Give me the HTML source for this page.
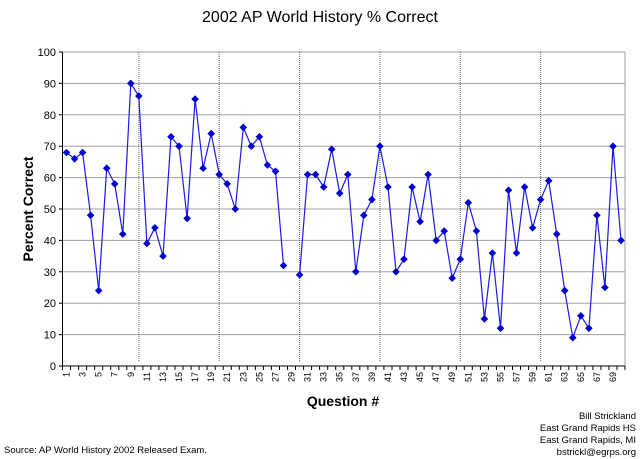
<!DOCTYPE html>
<html><head><meta charset="utf-8"><style>body{margin:0;background:#fff}svg{display:block}text{font-family:"Liberation Sans",sans-serif;fill:#000}</style></head><body>
<svg width="640" height="459" viewBox="0 0 640 459" xmlns="http://www.w3.org/2000/svg">
<defs><path id="d" d="M0,-3.8L3.8,0L0,3.8L-3.8,0Z" fill="#0000cc"/></defs>
<text x="320" y="22" text-anchor="middle" font-size="16">2002 AP World History % Correct</text>
<g stroke="#a0a0a0" stroke-width="1">
<line x1="62.5" y1="52" x2="625" y2="52"/><line x1="62.5" y1="83.4" x2="625" y2="83.4"/><line x1="62.5" y1="114.8" x2="625" y2="114.8"/><line x1="62.5" y1="146.2" x2="625" y2="146.2"/><line x1="62.5" y1="177.6" x2="625" y2="177.6"/><line x1="62.5" y1="209" x2="625" y2="209"/><line x1="62.5" y1="240.4" x2="625" y2="240.4"/><line x1="62.5" y1="271.8" x2="625" y2="271.8"/><line x1="62.5" y1="303.2" x2="625" y2="303.2"/><line x1="62.5" y1="334.6" x2="625" y2="334.6"/>
<line x1="625" y1="52" x2="625" y2="366"/>
</g>
<g stroke="#666" stroke-width="1" stroke-dasharray="1,1">
<line x1="138.8" y1="52" x2="138.8" y2="362"/><line x1="219.2" y1="52" x2="219.2" y2="362"/><line x1="299.6" y1="52" x2="299.6" y2="362"/><line x1="379.9" y1="52" x2="379.9" y2="362"/><line x1="460.3" y1="52" x2="460.3" y2="362"/><line x1="540.6" y1="52" x2="540.6" y2="362"/>
</g>
<g stroke="#000" stroke-width="1">
<line x1="62.5" y1="52" x2="62.5" y2="366"/><line x1="62.5" y1="366" x2="625" y2="366"/>
<path d="M59,52h3.5M59,83.4h3.5M59,114.8h3.5M59,146.2h3.5M59,177.6h3.5M59,209h3.5M59,240.4h3.5M59,271.8h3.5M59,303.2h3.5M59,334.6h3.5M59,366h3.5"/>
<path d="M62.5,366v4M70.5,366v4M78.6,366v4M86.6,366v4M94.6,366v4M102.7,366v4M110.7,366v4M118.8,366v4M126.8,366v4M134.8,366v4M142.9,366v4M150.9,366v4M158.9,366v4M167,366v4M175,366v4M183,366v4M191.1,366v4M199.1,366v4M207.1,366v4M215.2,366v4M223.2,366v4M231.3,366v4M239.3,366v4M247.3,366v4M255.4,366v4M263.4,366v4M271.4,366v4M279.5,366v4M287.5,366v4M295.5,366v4M303.6,366v4M311.6,366v4M319.6,366v4M327.7,366v4M335.7,366v4M343.8,366v4M351.8,366v4M359.8,366v4M367.9,366v4M375.9,366v4M383.9,366v4M392,366v4M400,366v4M408,366v4M416.1,366v4M424.1,366v4M432.1,366v4M440.2,366v4M448.2,366v4M456.3,366v4M464.3,366v4M472.3,366v4M480.4,366v4M488.4,366v4M496.4,366v4M504.5,366v4M512.5,366v4M520.5,366v4M528.6,366v4M536.6,366v4M544.6,366v4M552.7,366v4M560.7,366v4M568.8,366v4M576.8,366v4M584.8,366v4M592.9,366v4M600.9,366v4M608.9,366v4M617,366v4M625,366v4"/>
</g>
<g font-size="11" text-anchor="end">
<text x="56" y="56">100</text><text x="56" y="87.4">90</text><text x="56" y="118.8">80</text><text x="56" y="150.2">70</text><text x="56" y="181.6">60</text><text x="56" y="213">50</text><text x="56" y="244.4">40</text><text x="56" y="275.8">30</text><text x="56" y="307.2">20</text><text x="56" y="338.6">10</text><text x="56" y="370">0</text>
</g>
<g font-size="9" text-anchor="end">
<text transform="translate(69.5,372) rotate(-90)">1</text><text transform="translate(85.6,372) rotate(-90)">3</text><text transform="translate(101.7,372) rotate(-90)">5</text><text transform="translate(117.7,372) rotate(-90)">7</text><text transform="translate(133.8,372) rotate(-90)">9</text><text transform="translate(149.9,372) rotate(-90)">11</text><text transform="translate(166,372) rotate(-90)">13</text><text transform="translate(182,372) rotate(-90)">15</text><text transform="translate(198.1,372) rotate(-90)">17</text><text transform="translate(214.2,372) rotate(-90)">19</text><text transform="translate(230.2,372) rotate(-90)">21</text><text transform="translate(246.3,372) rotate(-90)">23</text><text transform="translate(262.4,372) rotate(-90)">25</text><text transform="translate(278.5,372) rotate(-90)">27</text><text transform="translate(294.5,372) rotate(-90)">29</text><text transform="translate(310.6,372) rotate(-90)">31</text><text transform="translate(326.7,372) rotate(-90)">33</text><text transform="translate(342.7,372) rotate(-90)">35</text><text transform="translate(358.8,372) rotate(-90)">37</text><text transform="translate(374.9,372) rotate(-90)">39</text><text transform="translate(391,372) rotate(-90)">41</text><text transform="translate(407,372) rotate(-90)">43</text><text transform="translate(423.1,372) rotate(-90)">45</text><text transform="translate(439.2,372) rotate(-90)">47</text><text transform="translate(455.2,372) rotate(-90)">49</text><text transform="translate(471.3,372) rotate(-90)">51</text><text transform="translate(487.4,372) rotate(-90)">53</text><text transform="translate(503.5,372) rotate(-90)">55</text><text transform="translate(519.5,372) rotate(-90)">57</text><text transform="translate(535.6,372) rotate(-90)">59</text><text transform="translate(551.7,372) rotate(-90)">61</text><text transform="translate(567.7,372) rotate(-90)">63</text><text transform="translate(583.8,372) rotate(-90)">65</text><text transform="translate(599.9,372) rotate(-90)">67</text><text transform="translate(616,372) rotate(-90)">69</text>
</g>
<text transform="translate(33,209) rotate(-90)" text-anchor="middle" font-size="14" font-weight="bold">Percent Correct</text>
<text x="343" y="406" text-anchor="middle" font-size="14" font-weight="bold">Question #</text>
<text x="4" y="453" font-size="9.5">Source: AP World History 2002 Released Exam.</text>
<g font-size="9.5" text-anchor="end">
<text x="636" y="419">Bill Strickland</text><text x="636" y="431">East Grand Rapids HS</text><text x="636" y="443">East Grand Rapids, MI</text><text x="636" y="455">bstrickl@egrps.org</text>
</g>
<g fill="none" stroke="#1a1aee" stroke-width="1.2">
<polyline points="66.5,152.5 74.6,158.8 82.6,152.5 90.6,215.3 98.7,290.6 106.7,168.2 114.7,183.9 122.8,234.1 130.8,83.4 138.8,96 146.9,243.5 154.9,227.8 163,256.1 171,136.8 179,146.2 187.1,218.4 195.1,99.1 203.1,168.2 211.2,133.6 219.2,174.5 227.2,183.9 235.3,209 243.3,127.4 251.3,146.2 259.4,136.8 267.4,165 275.5,171.3 283.5,265.5"/>
<polyline points="299.6,274.9 307.6,174.5 315.6,174.5 323.7,187 331.7,149.3 339.7,193.3 347.8,174.5 355.8,271.8 363.8,215.3 371.9,199.6 379.9,146.2 388,187 396,271.8 404,259.2 412.1,187 420.1,221.6 428.1,174.5 436.2,240.4 444.2,231 452.2,278.1 460.3,259.2 468.3,202.7 476.4,231 484.4,318.9 492.4,253 500.5,328.3 508.5,190.2 516.5,253 524.6,187 532.6,227.8 540.6,199.6 548.7,180.7 556.7,234.1 564.7,290.6 572.8,337.7 580.8,315.8 588.9,328.3 596.9,215.3 604.9,287.5 613,146.2 621,240.4"/>
</g>
<g>
<use href="#d" x="66.5" y="152.5"/><use href="#d" x="74.6" y="158.8"/><use href="#d" x="82.6" y="152.5"/><use href="#d" x="90.6" y="215.3"/><use href="#d" x="98.7" y="290.6"/><use href="#d" x="106.7" y="168.2"/><use href="#d" x="114.7" y="183.9"/><use href="#d" x="122.8" y="234.1"/><use href="#d" x="130.8" y="83.4"/><use href="#d" x="138.8" y="96"/><use href="#d" x="146.9" y="243.5"/><use href="#d" x="154.9" y="227.8"/><use href="#d" x="163" y="256.1"/><use href="#d" x="171" y="136.8"/><use href="#d" x="179" y="146.2"/><use href="#d" x="187.1" y="218.4"/><use href="#d" x="195.1" y="99.1"/><use href="#d" x="203.1" y="168.2"/><use href="#d" x="211.2" y="133.6"/><use href="#d" x="219.2" y="174.5"/><use href="#d" x="227.2" y="183.9"/><use href="#d" x="235.3" y="209"/><use href="#d" x="243.3" y="127.4"/><use href="#d" x="251.3" y="146.2"/><use href="#d" x="259.4" y="136.8"/><use href="#d" x="267.4" y="165"/><use href="#d" x="275.5" y="171.3"/><use href="#d" x="283.5" y="265.5"/>
<use href="#d" x="299.6" y="274.9"/><use href="#d" x="307.6" y="174.5"/><use href="#d" x="315.6" y="174.5"/><use href="#d" x="323.7" y="187"/><use href="#d" x="331.7" y="149.3"/><use href="#d" x="339.7" y="193.3"/><use href="#d" x="347.8" y="174.5"/><use href="#d" x="355.8" y="271.8"/><use href="#d" x="363.8" y="215.3"/><use href="#d" x="371.9" y="199.6"/><use href="#d" x="379.9" y="146.2"/><use href="#d" x="388" y="187"/><use href="#d" x="396" y="271.8"/><use href="#d" x="404" y="259.2"/><use href="#d" x="412.1" y="187"/><use href="#d" x="420.1" y="221.6"/><use href="#d" x="428.1" y="174.5"/><use href="#d" x="436.2" y="240.4"/><use href="#d" x="444.2" y="231"/><use href="#d" x="452.2" y="278.1"/><use href="#d" x="460.3" y="259.2"/><use href="#d" x="468.3" y="202.7"/><use href="#d" x="476.4" y="231"/><use href="#d" x="484.4" y="318.9"/><use href="#d" x="492.4" y="253"/><use href="#d" x="500.5" y="328.3"/><use href="#d" x="508.5" y="190.2"/><use href="#d" x="516.5" y="253"/><use href="#d" x="524.6" y="187"/><use href="#d" x="532.6" y="227.8"/><use href="#d" x="540.6" y="199.6"/><use href="#d" x="548.7" y="180.7"/><use href="#d" x="556.7" y="234.1"/><use href="#d" x="564.7" y="290.6"/><use href="#d" x="572.8" y="337.7"/><use href="#d" x="580.8" y="315.8"/><use href="#d" x="588.9" y="328.3"/><use href="#d" x="596.9" y="215.3"/><use href="#d" x="604.9" y="287.5"/><use href="#d" x="613" y="146.2"/><use href="#d" x="621" y="240.4"/>
</g>
</svg>
</body></html>
